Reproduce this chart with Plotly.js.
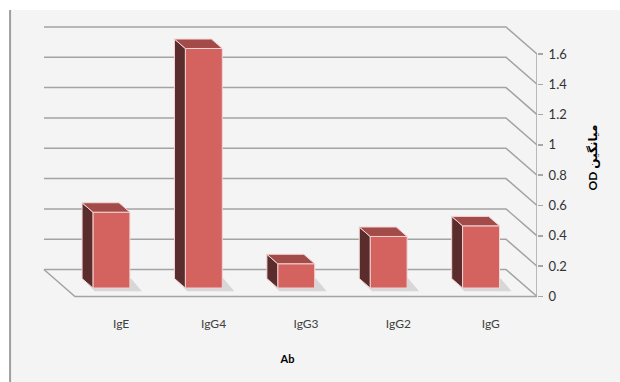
<!DOCTYPE html>
<html><head><meta charset="utf-8">
<script src="https://cdn.plot.ly/plotly-3.0.1.min.js"></script>
<style>html,body{margin:0;padding:0;background:#fff}</style></head>
<body>
<div id="chart" style="width:620px;height:382px"></div>
<script>
// ---- data ----
const categories = ['IgE', 'IgG4', 'IgG3', 'IgG2', 'IgG'];
const odValues = [0.50, 1.58, 0.16, 0.34, 0.41];
const yTickValues = [0, 0.2, 0.4, 0.6, 0.8, 1, 1.2, 1.4, 1.6];
const yTickLabels = ['0', '0.2', '0.4', '0.6', '0.8', '1', '1.2', '1.4', '1.6'];
const xTitle = 'Ab';
const yTitle = 'OD میانگین';

// ---- pseudo-3D projection (axis units) ----
const DX = -0.3355, DY = 0.178;   // floor depth offset (back = up-left)
const F0 = 0.315, F1 = 0.35;      // bar front plane fraction, bar depth fraction
const W = 0.40;                   // bar width
const X0 = -0.5, X1 = 4.5;        // floor extent
const GRID = '#a3a3a3';
const FRONT = '#d4625f', SIDE = '#5b2c2c', TOP = '#a34b48', EDGE = '#f2d4d4';

const shapes = [];
// background panel + left border
shapes.push({type:'rect', xref:'paper', yref:'paper', x0:-0.058, x1:1.3, y0:-0.4, y1:1.0175,
  fillcolor:'#f4f4f4', line:{width:0}, layer:'below'});
shapes.push({type:'line', xref:'paper', yref:'paper', x0:-0.056, x1:-0.056, y0:-0.4, y1:1.0175,
  line:{color:'#9f9f9f', width:2}, layer:'below'});
// back wall gridlines + side diagonal
yTickValues.forEach(v => {
  shapes.push({type:'path', xref:'x', yref:'y', layer:'below',
    path:`M ${X0+DX},${v+DY} L ${X1+DX},${v+DY} L ${X1},${v}`,
    line:{color:GRID, width:1.5}});
});
// floor front and left edges
shapes.push({type:'path', xref:'x', yref:'y', layer:'below',
  path:`M ${X0+DX},${DY} L ${X0},0 L ${X1},0`, line:{color:GRID, width:1.5}});
// right axis line 0..1.6
shapes.push({type:'line', xref:'x', yref:'y', layer:'below', x0:X1, x1:X1,
  y0:yTickValues[0], y1:yTickValues[yTickValues.length-1], line:{color:'#a6a6a6', width:1.5}});

// bar geometry derived from data
const base = F0*DY;
const bdx = F1*DX, bdy = F1*DY;
const xc = categories.map((c,i) => i + F0*DX);
// soft shadows on floor
odValues.forEach((v,i) => {
  const xl = xc[i]-W/2, xr = xc[i]+W/2;
  shapes.push({type:'path', xref:'x', yref:'y', layer:'below',
    path:`M ${xl+0.02},${base-0.022} L ${xr+0.13},${base-0.022} L ${xr+bdx+0.13},${base+bdy} L ${xl+bdx},${base+bdy} Z`,
    fillcolor:'rgba(150,150,150,0.3)', line:{width:0}});
});

const traces = [];
traces.push({type:'bar', x:xc, y:odValues, base:odValues.map(()=>base), width:W,
  marker:{color:FRONT, line:{color:EDGE, width:1}}, hoverinfo:'skip', showlegend:false});
odValues.forEach((v,i) => {
  const xl = xc[i]-W/2, xr = xc[i]+W/2;
  traces.push({type:'scatter', mode:'lines', fill:'toself', fillcolor:SIDE,
    x:[xl, xl, xl+bdx, xl+bdx, xl], y:[base, base+v, base+v+bdy, base+bdy, base],
    line:{color:EDGE, width:1}, hoverinfo:'skip', showlegend:false});
  traces.push({type:'scatter', mode:'lines', fill:'toself', fillcolor:TOP,
    x:[xl, xr, xr+bdx, xl+bdx, xl], y:[base+v, base+v, base+v+bdy, base+v+bdy, base+v],
    line:{color:EDGE, width:1}, hoverinfo:'skip', showlegend:false});
});

const font = 'Lato, "DejaVu Sans", sans-serif';
const layout = {
  width:620, height:382,
  margin:{l:38, r:83, t:15, b:82},
  paper_bgcolor:'#ffffff', plot_bgcolor:'rgba(0,0,0,0)',
  showlegend:false,
  font:{family:font, size:12, color:'#404040'},
  xaxis:{range:[-0.9, 4.5], tickvals:categories.map((c,i)=>i), ticktext:categories,
    showgrid:false, zeroline:false, showline:false, ticks:'', fixedrange:true,
    tickfont:{size:12, color:'#404040'}, ticklabelstandoff:15,
    title:{text:'<b>'+xTitle+'</b>', font:{size:11, color:'#000'}, standoff:25}},
  yaxis:{range:[-0.0231, 1.857], side:'right', tickvals:yTickValues, ticktext:yTickLabels,
    showgrid:false, zeroline:false, showline:false, ticks:'outside', ticklen:5,
    tickcolor:'#a6a6a6', tickwidth:1.5, tickfont:{size:13, color:'#333'},
    ticklabelstandoff:3,
    title:{text:'<b>'+yTitle+'</b>', font:{size:12, color:'#000'}, standoff:22}},
  shapes:shapes
};
Plotly.newPlot('chart', traces, layout, {staticPlot:true, displayModeBar:false});
</script>
</body></html>
